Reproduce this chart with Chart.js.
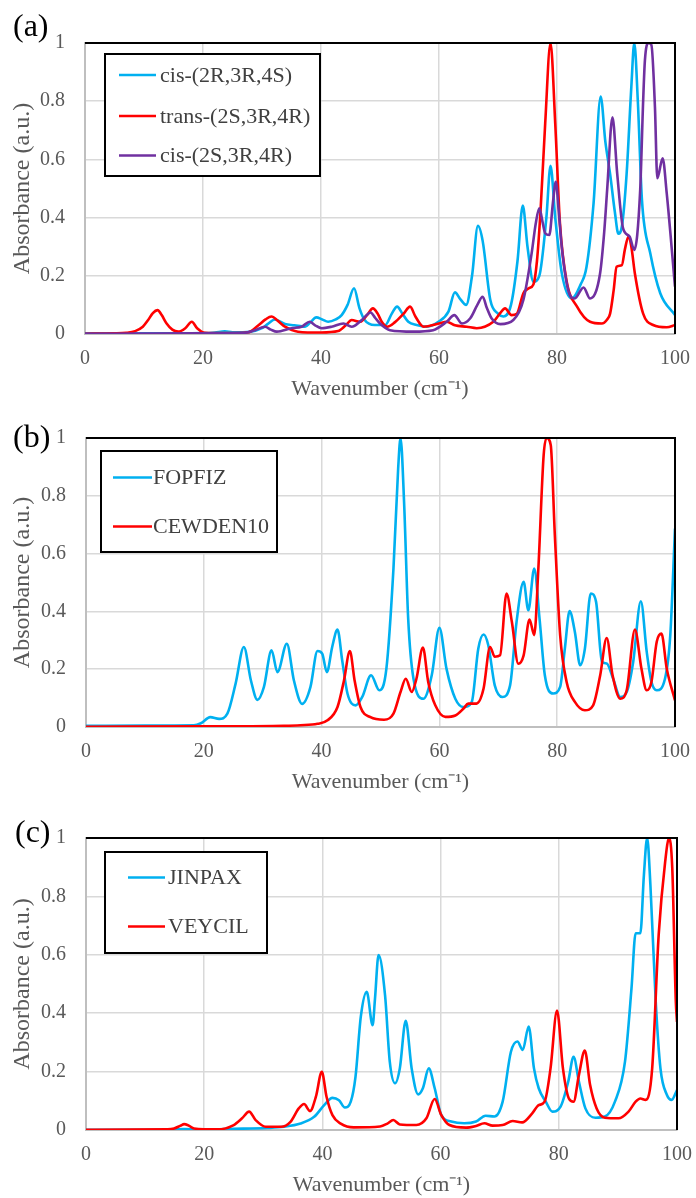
<!DOCTYPE html>
<html><head><meta charset="utf-8">
<script src="https://cdn.jsdelivr.net/npm/chart.js@4"></script>
<style>
html,body{margin:0;padding:0;background:#fff;width:696px;height:1198px;overflow:hidden;}
canvas{position:absolute;left:0;}
</style></head><body>
<canvas id="ca" width="696" height="400" style="top:0px"></canvas>
<canvas id="cb" width="696" height="393" style="top:400px"></canvas>
<canvas id="cc" width="696" height="405" style="top:793px"></canvas>
<script>
// ---------- Panel (a) ----------
const aCyanX = [0,10,20,22,23.7,25,28,30,31,32.2,33.9,35.5,37.3,38.2,39.2,40.2,41.2,42.5,43.5,44.5,45.6,46.5,47.4,49.1,50.9,52.0,52.9,53.8,54.8,56.2,57.9,59.9,61.6,62.7,63.6,64.6,65.6,66.6,67.4,68.7,70.0,70.9,72.2,73.3,74.2,75.0,76.0,77.0,78.2,78.9,79.7,80.8,82.5,84.0,85.0,86.2,87.4,88.2,89.0,89.8,90.4,91.0,91.8,92.6,93.1,93.7,94.4,95.8,97.5,100];
const aCyanY = [0.002,0.002,0.003,0.005,0.009,0.006,0.008,0.02,0.035,0.05,0.034,0.03,0.025,0.04,0.057,0.05,0.042,0.05,0.065,0.1,0.157,0.09,0.048,0.031,0.031,0.07,0.094,0.07,0.042,0.031,0.025,0.042,0.077,0.143,0.12,0.10,0.2,0.372,0.32,0.117,0.07,0.06,0.1,0.25,0.441,0.3,0.18,0.2,0.4,0.578,0.4,0.21,0.122,0.17,0.23,0.45,0.816,0.66,0.55,0.42,0.345,0.37,0.55,0.85,1.0,0.8,0.46,0.278,0.14,0.065];
const aRedX = [0,5,7,8.5,9.8,10.7,11.5,12.3,13.0,13.8,14.8,15.8,17.0,18.1,19.0,20.3,24,27.7,29.4,30.6,31.6,32.7,33.9,36.1,40,42.9,44.2,45.2,46.6,47.8,48.8,49.6,50.3,51.2,52.5,54.0,55.1,56.0,57.4,60.0,61.3,62.7,64.7,66.4,69.2,70.3,71.2,72.3,73.2,74.3,75.2,76.0,76.6,77.2,78.0,78.9,79.7,80.5,81.6,83.4,85.6,87.6,88.5,89.0,89.6,90.1,91.0,91.5,92.1,92.6,93.2,94.6,96.3,98.6,100];
const aRedY = [0.001,0.002,0.004,0.01,0.025,0.048,0.072,0.082,0.065,0.037,0.015,0.008,0.02,0.042,0.02,0.004,0.003,0.006,0.03,0.05,0.06,0.045,0.025,0.008,0.005,0.01,0.03,0.048,0.042,0.065,0.088,0.07,0.042,0.025,0.04,0.07,0.094,0.06,0.025,0.036,0.042,0.03,0.025,0.02,0.042,0.07,0.088,0.065,0.07,0.14,0.157,0.17,0.25,0.42,0.724,1.0,0.724,0.38,0.185,0.094,0.042,0.036,0.05,0.07,0.15,0.231,0.237,0.29,0.334,0.3,0.208,0.07,0.031,0.023,0.031];
const aPurpleX = [0,20,27,28.8,30.5,31.5,32.5,35,36.7,38.1,39.0,40.1,41.8,43.8,45.2,46.9,48.4,49.2,50,51.7,55.7,59,61.3,62.6,63.9,65.3,66.5,67.4,68.1,68.9,70.4,72.6,74.3,75.7,76.4,77.0,77.6,78.0,78.7,79.3,79.8,80.3,80.8,81.9,83.0,84.5,85.6,87.3,88.0,88.5,89.4,90.2,91.2,92.3,93.1,94.1,94.6,94.9,95.5,96.0,96.6,97.0,97.9,98.6,100];
const aPurpleY = [0.001,0.002,0.004,0.013,0.025,0.015,0.008,0.02,0.025,0.042,0.03,0.02,0.025,0.036,0.025,0.048,0.074,0.055,0.036,0.013,0.008,0.013,0.042,0.065,0.036,0.054,0.1,0.128,0.09,0.054,0.034,0.048,0.117,0.277,0.38,0.432,0.38,0.346,0.34,0.45,0.523,0.42,0.3,0.151,0.122,0.16,0.122,0.208,0.35,0.495,0.745,0.552,0.363,0.335,0.289,0.495,0.8,0.94,1.0,0.993,0.78,0.535,0.604,0.483,0.163];

// ---------- Panel (b) ----------
const bCyanX = [0,10,18.3,19.5,21.1,22.6,24.0,25.4,26.8,28.0,29.1,30.2,31.5,32.5,34.1,35.3,36.7,38.1,39.3,40.1,40.9,41.8,42.7,43.5,44.4,45.8,46.9,48.4,49.8,51.0,52.2,53.0,53.4,54.0,54.7,55.6,57.3,58.7,60.0,61.2,62.7,64.1,65.5,66.6,67.5,68.3,69.4,70.7,72.0,73.1,74.3,75.1,76.1,77.0,77.9,79.3,80.5,81.3,82.1,83.0,83.9,84.7,85.7,86.6,87.6,88.4,89.5,90.7,91.8,92.9,94.2,95.2,96.0,96.9,98.3,99.2,100];
const bCyanY = [0.004,0.005,0.006,0.013,0.034,0.028,0.046,0.15,0.277,0.161,0.094,0.138,0.265,0.19,0.288,0.161,0.08,0.138,0.263,0.254,0.19,0.277,0.337,0.23,0.115,0.075,0.104,0.179,0.127,0.202,0.548,0.895,1.0,0.78,0.375,0.167,0.098,0.179,0.343,0.202,0.098,0.069,0.087,0.271,0.32,0.283,0.144,0.104,0.144,0.364,0.502,0.404,0.548,0.375,0.179,0.116,0.139,0.271,0.401,0.329,0.214,0.271,0.462,0.433,0.225,0.22,0.167,0.104,0.121,0.225,0.435,0.26,0.156,0.127,0.167,0.318,0.687];
const bRedX = [0,20,33.6,36.4,39.3,41.0,42.7,43.8,44.8,45.6,46.6,48.3,50.6,52.2,53.4,54.3,55.3,56.1,57.2,58.1,59.3,61.0,62.7,64.1,64.9,66.3,67.5,68.6,69.4,70.3,71.4,72.3,73.4,74.3,75.3,76.1,76.8,77.7,78.2,78.9,79.6,80.5,81.6,83.0,84.7,86.1,87.3,88.4,89.4,90.7,91.8,93.2,94.3,95.2,96.0,96.9,97.7,98.6,100];
const bRedY = [0.001,0.002,0.004,0.006,0.011,0.023,0.069,0.161,0.263,0.161,0.069,0.034,0.025,0.046,0.121,0.167,0.121,0.167,0.275,0.156,0.075,0.035,0.04,0.064,0.081,0.081,0.133,0.277,0.243,0.248,0.462,0.364,0.219,0.248,0.372,0.318,0.548,0.941,1.0,0.976,0.664,0.318,0.156,0.087,0.058,0.075,0.179,0.308,0.179,0.098,0.127,0.337,0.202,0.127,0.156,0.295,0.323,0.202,0.092];

// ---------- Panel (c) ----------
const cCyanX = [0,14,16.6,20,25,30.7,33.5,36.3,38.6,40.3,41.7,42.8,43.8,44.8,45.6,46.5,47.5,48.5,48.9,49.5,50.6,51.4,52.3,53.1,54.1,55.1,56.2,57.0,58.0,59.0,60.1,61.8,64.0,66.0,67.6,69.1,70.5,71.9,73.0,73.9,74.9,75.8,76.6,77.8,78.9,80.3,81.6,82.5,83.4,84.5,86.2,87.8,89.5,91.2,92.3,93.0,93.8,94.4,94.95,95.5,96.4,97.2,98.3,99.1,100];
const cCyanY = [0.001,0.001,0.003,0.002,0.004,0.007,0.011,0.022,0.045,0.085,0.11,0.102,0.077,0.097,0.182,0.388,0.473,0.359,0.45,0.599,0.462,0.234,0.16,0.211,0.374,0.211,0.122,0.143,0.211,0.143,0.052,0.029,0.023,0.029,0.049,0.046,0.097,0.268,0.303,0.274,0.354,0.211,0.143,0.097,0.063,0.08,0.166,0.251,0.166,0.074,0.042,0.046,0.097,0.234,0.485,0.674,0.674,0.873,1.0,0.839,0.44,0.211,0.12,0.103,0.137];
const cRedX = [0,13.8,14.9,16.0,16.6,17.3,18.3,22.2,25.0,26.4,27.6,28.7,30.4,33.0,34.6,36.0,36.9,37.9,38.9,39.9,40.7,41.7,43.1,45.3,49.75,51.0,52.0,53.1,55.9,57.6,59.0,60.1,61.5,64.3,66.0,67.4,68.8,70.5,72.2,73.8,75.5,76.6,77.6,78.6,79.7,80.7,81.7,82.5,83.4,84.4,85.3,86.4,87.8,90.1,91.8,93.0,93.8,94.7,95.8,96.9,98.0,98.65,99.2,99.8,100];
const cRedY = [0.001,0.002,0.005,0.015,0.02,0.016,0.005,0.002,0.017,0.04,0.063,0.034,0.011,0.011,0.028,0.074,0.089,0.065,0.114,0.199,0.114,0.051,0.022,0.009,0.012,0.022,0.034,0.019,0.017,0.04,0.106,0.052,0.017,0.008,0.014,0.023,0.015,0.017,0.031,0.026,0.057,0.085,0.097,0.211,0.409,0.211,0.108,0.097,0.188,0.272,0.154,0.074,0.042,0.04,0.063,0.097,0.108,0.103,0.211,0.668,0.919,1.0,0.896,0.44,0.37];

const xTicksStep = 20;
const yTicksStep = 0.2;
const xTitle = 'Wavenumber (cm\u207B\u00B9)';
const yTitle = 'Absorbance (a.u.)';

const SERIF = '"Liberation Serif","Times New Roman",serif';
const CYAN = '#00B0F0', RED = '#FF0000', PURPLE = '#7030A0';

function pts(xs, ys){ return xs.map((x,i)=>({x:x, y:ys[i]})); }
function ds(label, xs, ys, color, order){
  return {label, data: pts(xs, ys), borderColor: color, backgroundColor: color, borderWidth: 2.6,
          pointRadius: 0, cubicInterpolationMode: 'monotone', fill: false, order};
}

const framePlugin = {
  id: 'frame',
  afterDatasetsDraw(chart){
    const {ctx, chartArea:{left, top, right, bottom}} = chart;
    ctx.save(); ctx.strokeStyle = '#000'; ctx.lineWidth = 2;
    ctx.beginPath(); ctx.moveTo(left, top); ctx.lineTo(right, top); ctx.lineTo(right, bottom); ctx.stroke();
    ctx.restore();
  }
};
const boxLegend = {
  id: 'boxLegend',
  afterDraw(chart, args, o){
    const ctx = chart.ctx; ctx.save();
    ctx.fillStyle = '#fff'; ctx.fillRect(o.x, o.y, o.w, o.h);
    ctx.strokeStyle = '#000'; ctx.lineWidth = 2; ctx.strokeRect(o.x, o.y, o.w, o.h);
    ctx.font = '22px ' + SERIF; ctx.textBaseline = 'middle'; ctx.textAlign = 'left';
    chart.data.datasets.forEach((d, i) => {
      const y = o.rows[i];
      ctx.strokeStyle = d.borderColor; ctx.lineWidth = 2.6;
      ctx.beginPath(); ctx.moveTo(o.lineX0, y); ctx.lineTo(o.lineX1, y); ctx.stroke();
      ctx.fillStyle = '#404040'; ctx.fillText(d.label, o.textX, y + 1);
    });
    ctx.restore();
  }
};
const panelLabel = {
  id: 'panelLabel',
  afterDraw(chart, args, o){
    const ctx = chart.ctx; ctx.save();
    ctx.font = '32px ' + SERIF; ctx.fillStyle = '#000'; ctx.textBaseline = 'alphabetic';
    ctx.fillText(o.text, o.x, o.y);
    ctx.restore();
  }
};

function makeChart(id, datasets, cfg){
  return new Chart(document.getElementById(id), {
    type: 'line',
    data: {datasets},
    options: {
      responsive: false, animation: false, events: [],
      layout: {padding: {left: 0, top: cfg.padTop, right: cfg.padRight, bottom: cfg.padBottom}},
      plugins: {legend: {display: false}, tooltip: {enabled: false}, boxLegend: cfg.legend, panelLabel: cfg.label},
      scales: {
        x: {type: 'linear', min: 0, max: 100,
            ticks: {stepSize: xTicksStep, padding: 13, color: '#595959', font: {family: SERIF, size: 20}, maxRotation: 0, autoSkip: false},
            grid: {color: '#d9d9d9', lineWidth: 1.5, drawTicks: false},
            border: {color: '#bfbfbf', width: 2},
            title: {display: true, text: xTitle, color: '#595959', font: {family: SERIF, size: 22, lineHeight: 1}, padding: 0},
            afterFit(s){ s.height = 66; s.paddingLeft = 0; s.paddingRight = 0; }},
        y: {type: 'linear', min: 0, max: 1,
            ticks: {stepSize: yTicksStep, padding: 20, color: '#595959', font: {family: SERIF, size: 20},
                    callback: (v) => String(Number(v.toFixed(2)))},
            grid: {color: '#d9d9d9', lineWidth: 1.5, drawTicks: false},
            border: {color: '#bfbfbf', width: 2},
            title: {display: true, text: yTitle, color: '#595959', font: {family: SERIF, size: 24, lineHeight: 1}, padding: {top: 11, bottom: 0}},
            afterFit(s){ s.width = cfg.axisLeft; s.paddingTop = 0; s.paddingBottom = 0; }}
      }
    },
    plugins: [framePlugin, boxLegend, panelLabel]
  });
}

makeChart('ca', [
  ds('cis-(2R,3R,4S)', aCyanX, aCyanY, CYAN, 3),
  ds('trans-(2S,3R,4R)', aRedX, aRedY, RED, 2),
  ds('cis-(2S,3R,4R)', aPurpleX, aPurpleY, PURPLE, 1)
], {padTop: 43, padRight: 21, padBottom: 0, axisLeft: 85,
    legend: {x: 105, y: 54, w: 215, h: 122, rows: [75, 116, 155.5], lineX0: 119, lineX1: 156, textX: 160},
    label: {text: '(a)', x: 13, y: 36}});

makeChart('cb', [
  ds('FOPFIZ', bCyanX, bCyanY, CYAN, 2),
  ds('CEWDEN10', bRedX, bRedY, RED, 1)
], {padTop: 38, padRight: 21, padBottom: 0, axisLeft: 86,
    legend: {x: 101, y: 51, w: 176, h: 101, rows: [77.5, 126.5], lineX0: 113, lineX1: 152, textX: 153},
    label: {text: '(b)', x: 13, y: 47}});

makeChart('cc', [
  ds('JINPAX', cCyanX, cCyanY, CYAN, 2),
  ds('VEYCIL', cRedX, cRedY, RED, 1)
], {padTop: 45, padRight: 19, padBottom: 2, axisLeft: 86,
    legend: {x: 105, y: 59, w: 162, h: 101, rows: [84.5, 133.5], lineX0: 128, lineX1: 165, textX: 168},
    label: {text: '(c)', x: 15, y: 49}});
</script>
</body></html>
